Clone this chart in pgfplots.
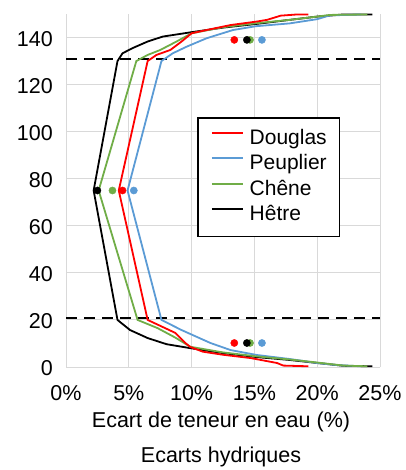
\documentclass[border=0pt]{standalone}
\usepackage{pgfplots}
\pgfplotsset{compat=1.18}
\usepackage{fontspec}
\setmainfont{Liberation Sans}
\definecolor{cred}{HTML}{FF0000}
\definecolor{cblue}{HTML}{5B9BD5}
\definecolor{cgreen}{HTML}{70AD47}
\definecolor{cgrid}{HTML}{D9D9D9}
\begin{document}
\begin{tikzpicture}
\path[use as bounding box] (-66pt,-103pt) rectangle (339pt,367pt);
\begin{axis}[
  scale only axis, width=314pt, height=353pt,
  xmin=0, xmax=25, ymin=0, ymax=150,
  axis line style={draw=none},
  major tick length=0pt, tick style={draw=none},
  xtick={0,5,...,25}, xticklabels={0\%,5\%,10\%,15\%,20\%,25\%},
  ytick={0,20,...,140}, yticklabels={0,20,40,60,80,100,120,140},
  grid=major, major grid style={cgrid, line width=1pt},
  ticklabel style={font=\fontsize{21.5}{25}\selectfont},
  xticklabel style={anchor=base, inner sep=0pt, yshift=-33.4pt},
  yticklabel style={anchor=east, inner sep=0pt, xshift=-13pt, yshift=-1.5pt},
  clip=false,
  legend style={at={(0.4176,0.708)}, anchor=north west, draw=black, line width=1.5pt,
    fill=white, inner xsep=13pt, inner ysep=11pt, row sep=5.5pt, column sep=6pt,
    font=\fontsize{21}{25}\selectfont,
    nodes={inner sep=0pt, text height=15.5pt, text depth=4.5pt}},
  legend cell align=left,
  legend image code/.code={\draw[#1] (0pt,6pt) -- (31pt,6pt);},
]
\addlegendimage{cred, line width=1.8pt}
\addlegendimage{cblue, line width=1.8pt}
\addlegendimage{cgreen, line width=1.8pt}
\addlegendimage{black, line width=1.8pt}

% dashed limits
\addplot[forget plot, black, line width=2pt, dash pattern=on 11pt off 7pt] coordinates {(0,131) (25,131)};
\addplot[forget plot, black, line width=2pt, dash pattern=on 11pt off 7pt] coordinates {(0,21) (25,21)};

% Hetre
\addplot[forget plot, black, line width=1.8pt] coordinates {
(24.4,0.3)(22.1,0.5)(20,1.7)(17.8,3)(15.2,4.2)(12.5,5.9)(9.9,8)(8,9.7)(6.5,12.3)(5.1,15.7)(4.1,20)
(2.2,75)
(4.1,130)(4.5,133.3)(5.3,135.5)(6.5,138.3)(7.7,140.4)(9.9,142.2)(12.5,144.2)(15.2,145.8)(17.8,147.5)(20,148.9)(22.1,149.8)(24.4,149.8)};
% Peuplier
\addplot[forget plot, cblue, line width=1.8pt] coordinates {
(23.5,0.3)(21.6,0.8)(20,1.7)(17.8,3.4)(15.2,5.1)(13.1,7.2)(11.5,10.2)(9.2,15.7)(7.6,20)
(4.9,75)
(7.6,130)(8.5,133.3)(9.6,136.1)(11.2,139.7)(13.3,143.2)(15.1,144.8)(17.8,146)(20,147.8)(21,149.4)(23.5,149.8)};
% Chene
\addplot[forget plot, cgreen, line width=1.8pt] coordinates {
(24,0.3)(22.1,0.6)(20,1.9)(17.8,3.2)(15.2,4.5)(12.5,6.2)(9.9,8.6)(8.7,12.5)(7.3,16.5)(5.7,20)
(2.6,75)
(5.6,130)(6.5,132.6)(7.5,134.7)(8.8,138.3)(10,141.8)(12.5,144.4)(15.2,146.1)(17.8,147.5)(20,148.9)(21,149.6)(24,149.8)};
% Douglas
\addplot[forget plot, cred, line width=1.8pt] coordinates {
(19.3,0.3)(17.3,0.6)(16.8,1.7)(14.7,3.8)(12.5,5.2)(10.9,6.5)(9.9,8.5)(9.5,10.2)(8.7,14.5)(7.7,17)(6.5,20)
(4.2,75)
(6.5,130)(7.2,132.6)(8.3,134.7)(9.2,138.3)(10,141.8)(11.2,143.2)(13.1,145.3)(15.2,146.8)(16,147.5)(17.1,149.3)(18.4,149.8)(19.3,149.8)};

% dots
\addplot[forget plot, only marks, mark=*, mark size=3.6pt, cred, mark options={draw=cred, fill=cred}] coordinates {(4.5,75)(13.4,139)(13.4,10.2)};
\addplot[forget plot, only marks, mark=*, mark size=3.6pt, cgreen, mark options={draw=cgreen, fill=cgreen}] coordinates {(3.7,75)(14.65,139)(14.65,10.2)};
\addplot[forget plot, only marks, mark=*, mark size=3.6pt, black, mark options={draw=black, fill=black}] coordinates {(2.5,75)(14.4,139)(14.4,10.2)};
\addplot[forget plot, only marks, mark=*, mark size=3.6pt, cblue, mark options={draw=cblue, fill=cblue}] coordinates {(5.4,75)(15.6,139)(15.6,10.2)};

\legend{Douglas,Peuplier,Chêne,Hêtre}
\end{axis}
\node[anchor=base, font=\fontsize{21.5}{25}\selectfont] at (155pt,-60.5pt) {Ecart de teneur en eau (\%)};
\node[anchor=base, font=\fontsize{21.5}{25}\selectfont] at (155pt,-95.5pt) {Ecarts hydriques};
\end{tikzpicture}
\end{document}
